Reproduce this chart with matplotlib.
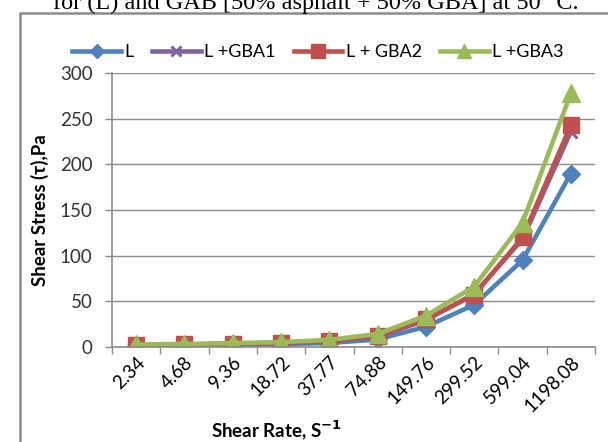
import numpy as np
import matplotlib
matplotlib.use("Agg")
import matplotlib.pyplot as plt
from matplotlib.patches import Rectangle

# shear rate categories and shear stress readings (Pa)
shear_rate = ["2.34", "4.68", "9.36", "18.72", "37.77", "74.88",
              "149.76", "299.52", "599.04", "1198.08"]
stress_L = [1, 1.5, 2, 3, 4, 8, 22, 46, 95, 190]
stress_gba1 = [2, 2.5, 3, 4, 6, 11, 29, 58, 118, 236]
stress_gba2 = [2, 2.5, 3, 4.5, 6, 12, 30, 57, 120, 243]
stress_gba3 = [2.5, 3, 4, 5, 7.5, 14, 34, 66, 136, 278]
y_ticks = [0, 50, 100, 150, 200, 250, 300]

plt.rcParams['font.family'] = ['Lato', 'DejaVu Sans']
FS = 13.5

fig = plt.figure(figsize=(6.08, 4.42), dpi=100)

# caption of the figure, cut at the top like the source
fig.text(316 / 608, 1 - 9 / 442, "for (L) and GAB [50% asphalt + 50% GBA] at 50 °C.",
         family='Liberation Serif', fontsize=17.5, ha='center', va='baseline')

# chart border
fig.patches.append(Rectangle((20 / 608, -0.1), 1.0, 1 - 13 / 442 + 0.1,
                             transform=fig.transFigure, fill=False,
                             edgecolor='#8c8c8c', lw=1.8))

ax = fig.add_axes([112 / 608, 1 - 346.7 / 442, (595 - 112) / 608, (346.7 - 73.3) / 442])
x = np.arange(len(shear_rate))

series = [
    (stress_L, "L", '#4F81BD', 'D', 9),
    (stress_gba1, "L +GBA1", '#8064A2', 'x', 9),
    (stress_gba2, "L + GBA2", '#C0504D', 's', 12),
    (stress_gba3, "L +GBA3", '#9BBB59', '^', 13),
]
for vals, name, color, marker, ms in series:
    ax.plot(x, vals, color=color, lw=3.3, marker=marker, markersize=ms,
            markeredgewidth=2.2 if marker == 'x' else 1, label=name)

ax.set_xlim(-0.5, len(shear_rate) - 0.5)
ax.set_ylim(0, 300)
ax.set_yticks(y_ticks)
ax.set_yticklabels([str(v) for v in y_ticks], fontsize=FS, color='#333333')
ax.yaxis.grid(True, color='#8c8c8c', lw=1)
ax.set_axisbelow(True)

ax.set_xticks(np.arange(-0.5, len(shear_rate), 1))
ax.set_xticklabels([])
ax.set_xticks(x, minor=True)
ax.set_xticklabels(shear_rate, minor=True, rotation=45, ha='right',
                   rotation_mode='anchor', fontsize=FS)
ax.tick_params(axis='x', which='minor', length=0, pad=5)
ax.tick_params(axis='x', which='major', length=5, color='#8c8c8c', width=1)
ax.tick_params(axis='y', length=5, color='#8c8c8c', width=1, pad=9)

for s in ['top', 'right']:
    ax.spines[s].set_visible(False)
for s in ['left', 'bottom']:
    ax.spines[s].set_color('#8c8c8c')
    ax.spines[s].set_linewidth(1.2)

ax.set_ylabel("Shear Stress (τ),Pa", fontsize=FS, fontweight='bold', labelpad=8)
fig.text(277 / 608, 1 - 430 / 442, "Shear Rate, S$^{\\mathbf{-1}}$", fontsize=FS,
         fontweight='bold', ha='center', va='center')

ax.legend(loc='center', bbox_to_anchor=(318 / 608, 1 - 52 / 442),
          bbox_transform=fig.transFigure, ncol=4, frameon=False,
          fontsize=13, handlelength=2.7, handletextpad=0.2, columnspacing=1.0,
          markerscale=0.8)

fig.savefig("out.png", dpi=100)
